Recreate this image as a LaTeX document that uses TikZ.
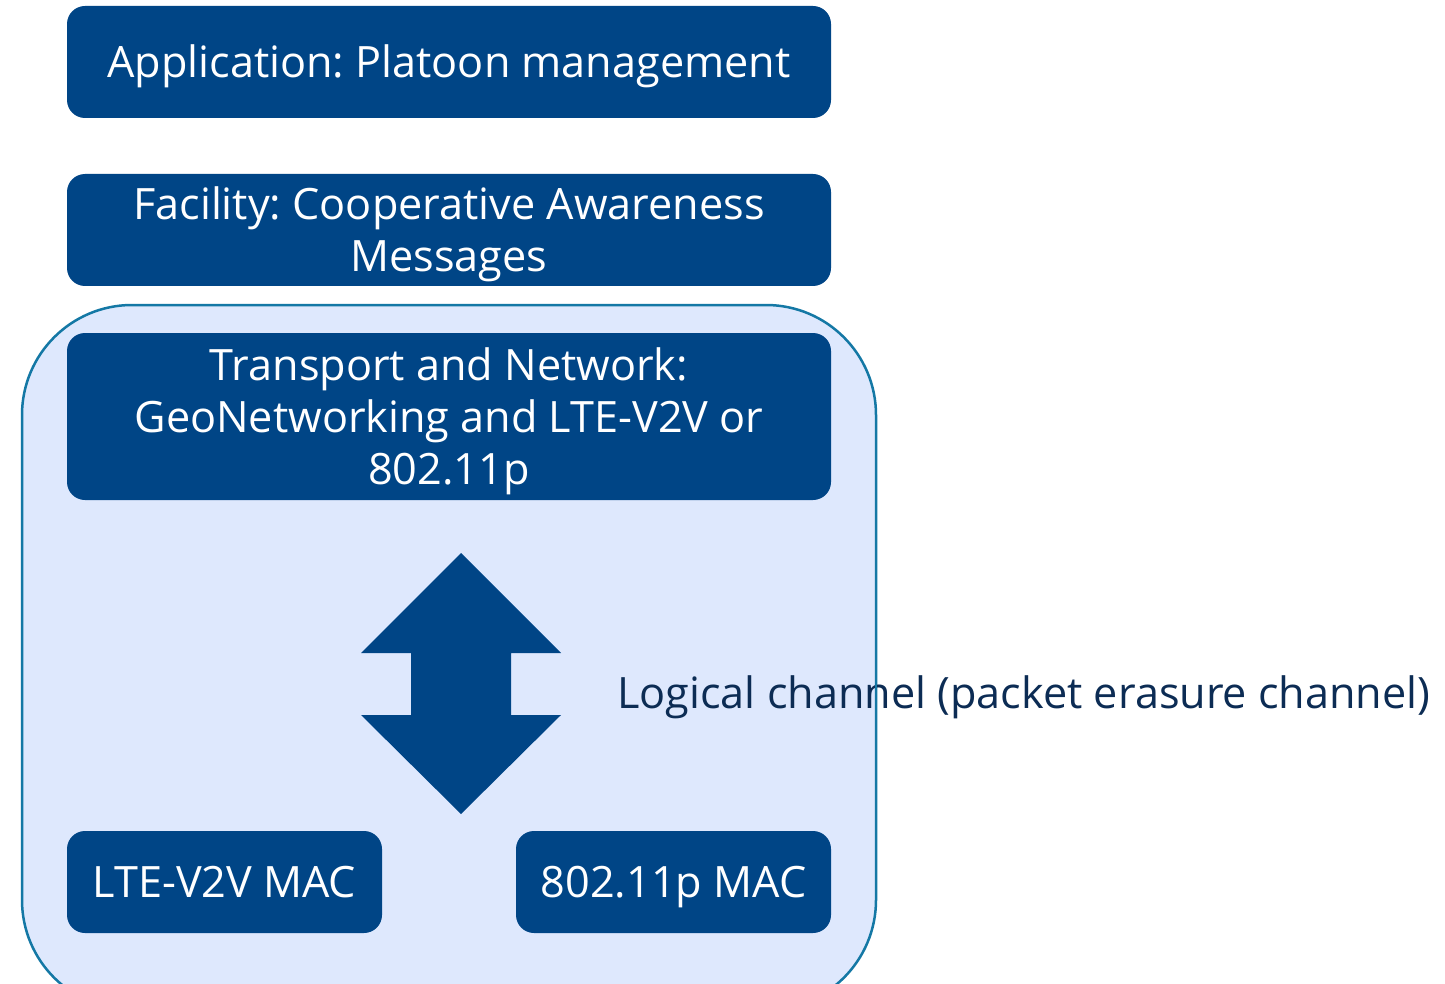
\documentclass[tikz,border=0pt]{standalone}
\usepackage{fontspec}
\setmainfont{Open Sans}
\frenchspacing
\definecolor{boxblue}{RGB}{0,69,134}
\definecolor{bglight}{RGB}{222,232,253}
\definecolor{edgeblue}{RGB}{20,120,165}
\definecolor{navytext}{RGB}{12,44,84}
\begin{document}
\begin{tikzpicture}[x=1pt,y=-1pt,
  layer/.style={fill=boxblue, draw=none, rounded corners=18pt, inner sep=0pt},
  layertext/.style={text=white, align=center, font=\fontsize{43.2}{52}\selectfont,
    inner sep=0pt, yshift=-4.5pt},
]
\useasboundingbox (0,0) rectangle (1445,984);
\fill[white] (0,0) rectangle (1445,984);
\begin{scope}
\clip (0,0) rectangle (1445,984);
\draw[fill=bglight, draw=edgeblue, line width=2.5pt, rounded corners=110pt] (22,305) rectangle (876,1010);
\end{scope}
\node[layer, minimum width=764pt, minimum height=112pt] (app) at (449,62) {};
\node[layertext] (apptext) at (app.center) {Application: Platoon management};
\node[layer, minimum width=764pt, minimum height=112pt] (fac) at (449,230) {};
\node[layertext] (factext) at (fac.center) {Facility: Cooperative Awareness\\Messages};
\node[layer, minimum width=764pt, minimum height=167pt] (tn) at (449,416.5) {};
\node[layertext] (tntext) at (tn.center) {Transport and Network:\\GeoNetworking and LTE-V2V or\\802.11p};
\node[layer, minimum width=315pt, minimum height=102pt] (lte) at (224.5,882) {};
\node[layertext, yshift=0pt, text height=31pt, text depth=9pt] (ltetext) at (lte.center) {LTE-V2V MAC};
\node[layer, minimum width=315pt, minimum height=102pt] (wifi) at (673.5,882) {};
\node[layertext, yshift=0pt, text height=31pt, text depth=9pt] (wifitext) at (wifi.center) {802.11p MAC};
\fill[boxblue] (461,553) -- (561,653) -- (511,653) -- (511,715) -- (561,715) -- (461,814)
  -- (361,715) -- (411,715) -- (411,653) -- (361,653) -- cycle;
\node[anchor=west, text=navytext, font=\fontsize{43.2}{52}\selectfont, inner sep=0pt] (lc) at (617,697) {Logical channel (packet erasure channel)};
\draw[edgeblue, line width=2.5pt] (876,660) -- (876,724);
\end{tikzpicture}
\end{document}
